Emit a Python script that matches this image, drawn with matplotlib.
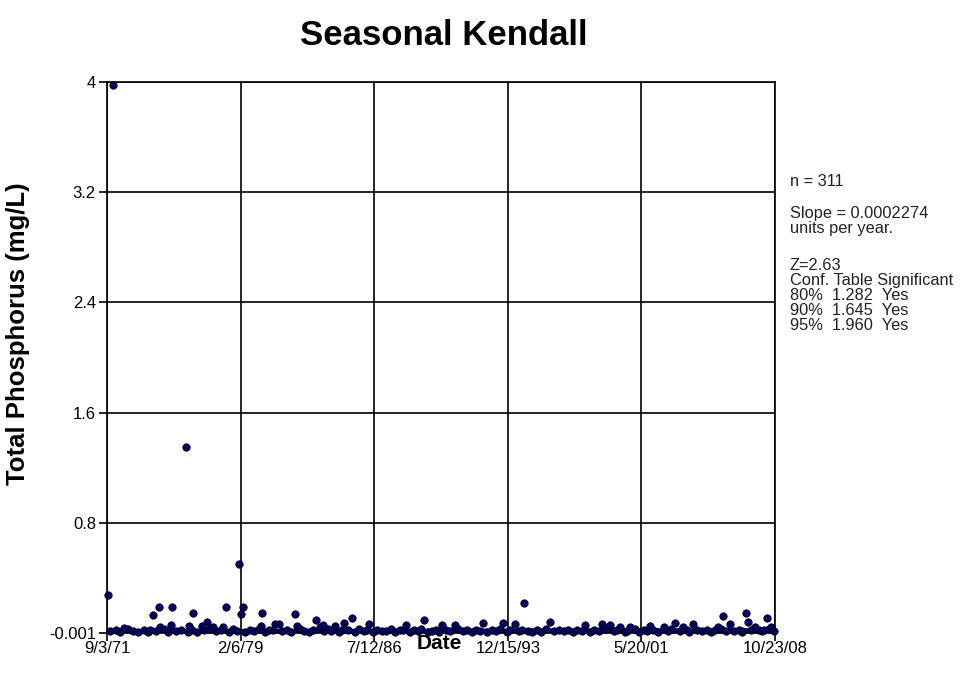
import numpy as np
import pandas as pd
import matplotlib
matplotlib.use("Agg")
import matplotlib.pyplot as plt

plt.rcParams['font.family'] = ['Liberation Sans', 'DejaVu Sans']

# points that stand clear of the bottom band (decimal year, mg/L)
peak_year = [1971.72, 1972.00, 1972.62, 1974.23, 1974.56, 1974.60, 1975.23, 1975.29,
             1976.07, 1976.23, 1976.46, 1976.96, 1977.23, 1977.57, 1978.12, 1978.29,
             1979.01, 1979.13, 1979.24, 1980.24, 1980.29, 1981.02, 1981.24, 1982.13,
             1982.24, 1983.30, 1983.52, 1983.69, 1984.36, 1984.86, 1985.30, 1986.25,
             1988.31, 1989.31, 1990.31, 1991.03, 1992.59, 1993.70, 1994.37, 1994.87,
             1996.32, 1998.27, 1999.21, 1999.66, 2000.21, 2000.77, 2001.83, 2002.61,
             2003.27, 2003.72, 2004.27, 2005.66, 2005.94, 2006.33, 2007.17, 2007.28,
             2007.72, 2008.34, 2008.56]
peak_tp = [0.275, 3.98, 0.036, 0.13, 0.19, 0.045, 0.058, 0.19,
           1.35, 0.05, 0.145, 0.05, 0.08, 0.045, 0.045, 0.19,
           0.50, 0.14, 0.19, 0.05, 0.145, 0.065, 0.065, 0.14,
           0.05, 0.095, 0.045, 0.06, 0.05, 0.07, 0.11, 0.065,
           0.06, 0.095, 0.06, 0.06, 0.07, 0.07, 0.065, 0.22,
           0.08, 0.06, 0.065, 0.06, 0.045, 0.045, 0.05, 0.045,
           0.07, 0.04, 0.065, 0.045, 0.12, 0.065, 0.145, 0.08,
           0.04, 0.11, 0.045]

# points in the dense band near zero
base_year = [1971.85, 1972.15, 1972.40, 1972.85, 1973.10, 1973.40, 1973.70, 1973.95,
             1974.05, 1974.40, 1974.85, 1975.05, 1975.50, 1975.80, 1976.15, 1976.40,
             1976.70, 1977.05, 1977.40, 1977.75, 1978.00, 1978.45, 1978.70, 1978.90,
             1979.35, 1979.60, 1979.85, 1980.10, 1980.45, 1980.70, 1980.90, 1981.40,
             1981.65, 1981.90, 1982.40, 1982.65, 1982.90, 1983.10, 1983.75, 1983.95,
             1984.15, 1984.55, 1984.75, 1985.05, 1985.45, 1985.70, 1985.95, 1986.10,
             1986.45, 1986.70, 1986.95, 1987.20, 1987.45, 1987.70, 1987.95, 1988.15,
             1988.50, 1988.75, 1988.95, 1989.15, 1989.50, 1989.75, 1989.95, 1990.15,
             1990.50, 1990.75, 1991.20, 1991.45, 1991.70, 1991.95, 1992.20, 1992.40,
             1992.80, 1993.05, 1993.30, 1993.50, 1993.90, 1994.10, 1994.55, 1994.75,
             1995.05, 1995.30, 1995.55, 1995.80, 1996.05, 1996.55, 1996.80, 1997.05,
             1997.30, 1997.55, 1997.80, 1998.05, 1998.50, 1998.75, 1999.00, 1999.40,
             1999.85, 2000.05, 2000.45, 2000.60, 2001.00, 2001.25, 2001.50, 2001.70,
             2002.05, 2002.30, 2002.85, 2003.05, 2003.50, 2003.90, 2004.05, 2004.50,
             2004.75, 2005.00, 2005.25, 2005.45, 2005.80, 2006.10, 2006.55, 2006.80,
             2007.00, 2007.45, 2007.90, 2008.10, 2008.50, 2008.75, 2008.20, 2006.95]
base_tp = [.012, .020, .008, .025, .015, .005, .018, .010,
           .022, .012, .030, .008, .016, .024, .010, .020,
           .006, .018, .028, .012, .020, .008, .025, .015,
           .010, .022, .014, .030, .006, .018, .024, .012,
           .020, .008, .026, .014, .010, .022, .016, .028,
           .012, .006, .024, .018, .010, .028, .014, .020,
           .008, .022, .016, .012, .026, .010, .018, .024,
           .006, .020, .014, .028, .010, .016, .022, .008,
           .018, .012, .026, .014, .020, .008, .024, .016,
           .010, .022, .014, .028, .006, .018, .012, .024,
           .016, .010, .022, .008, .026, .014, .020, .012,
           .018, .006, .024, .014, .010, .022, .016, .028,
           .012, .020, .008, .016, .026, .010, .018, .014,
           .022, .008, .016, .028, .012, .020, .010, .024,
           .014, .018, .006, .022, .026, .012, .016, .020,
           .010, .024, .018, .012, .028, .016, .022, .014]

tick_dates = ['1971-09-03', '1979-02-06', '1986-07-12', '1993-12-15', '2001-05-20', '2008-10-23']
tick_labels = ['9/3/71', '2/6/79', '7/12/86', '12/15/93', '5/20/01', '10/23/08']
y_ticks = [-0.001, 0.8, 1.6, 2.4, 3.2, 4]
y_labels = ['-0.001', '0.8', '1.6', '2.4', '3.2', '4']

slope = 0.0002274   # units per year
trend_start = 0.006


def to_date(y):
    yr = int(y)
    return pd.Timestamp(yr, 1, 1) + pd.Timedelta(days=(y - yr) * 365.25)


x_all = [to_date(v) for v in base_year + peak_year]
y_all = base_tp + peak_tp
ticks = pd.to_datetime(tick_dates)

fig = plt.figure(figsize=(9.7, 6.75), dpi=100)
ax = fig.add_axes([0.1103, 0.0622, 0.6887, 0.8163])

# trend line
yrs = (ticks[-1] - ticks[0]).days / 365.25
ax.plot([ticks[0], ticks[-1]], [trend_start, trend_start + slope * yrs],
        color='#000080', lw=4, zorder=2, solid_capstyle='butt')

ax.scatter(x_all, y_all, s=28, facecolor='#000066', edgecolor='black',
           linewidth=0.6, zorder=3, clip_on=False)

ax.set_xlim(ticks[0], ticks[-1])
ax.set_ylim(-0.001, 4)
ax.set_xticks(ticks)
ax.set_xticklabels(tick_labels)
ax.set_yticks(y_ticks)
ax.set_yticklabels(y_labels)
ax.tick_params(direction='out', length=6, width=1.2, labelsize=12, colors='black')
ax.tick_params(axis='x', pad=0)
ax.tick_params(axis='y', pad=2)
ax.grid(True, color='black', lw=1.2)
ax.set_axisbelow(True)
for sp in ax.spines.values():
    sp.set_color('black')
    sp.set_linewidth(1.2)

fig.text(0.458, 0.948, 'Seasonal Kendall', ha='center', va='center',
         fontsize=25, fontweight='bold')
fig.text(0.019, 0.505, 'Total Phosphorus (mg/L)', rotation=90, ha='center', va='center',
         fontsize=18.5, fontweight='bold')
fig.text(0.453, 0.047, 'Date', ha='center', va='center', fontsize=15, fontweight='bold')

fs = 11.8
fig.text(0.814, 1 - 182 / 675, 'n = 311', fontsize=fs, va='center', color='#222222')
fig.text(0.814, 1 - 206 / 675, 'Slope = 0.0002274\nunits per year.', fontsize=fs,
         va='top', color='#222222', linespacing=0.99)
fig.text(0.814, 1 - 258 / 675,
         'Z=2.63\nConf. Table Significant\n80%  1.282  Yes\n90%  1.645  Yes\n95%  1.960  Yes',
         fontsize=fs, va='top', color='#222222', linespacing=0.99)

fig.savefig('out.png', dpi=100)
